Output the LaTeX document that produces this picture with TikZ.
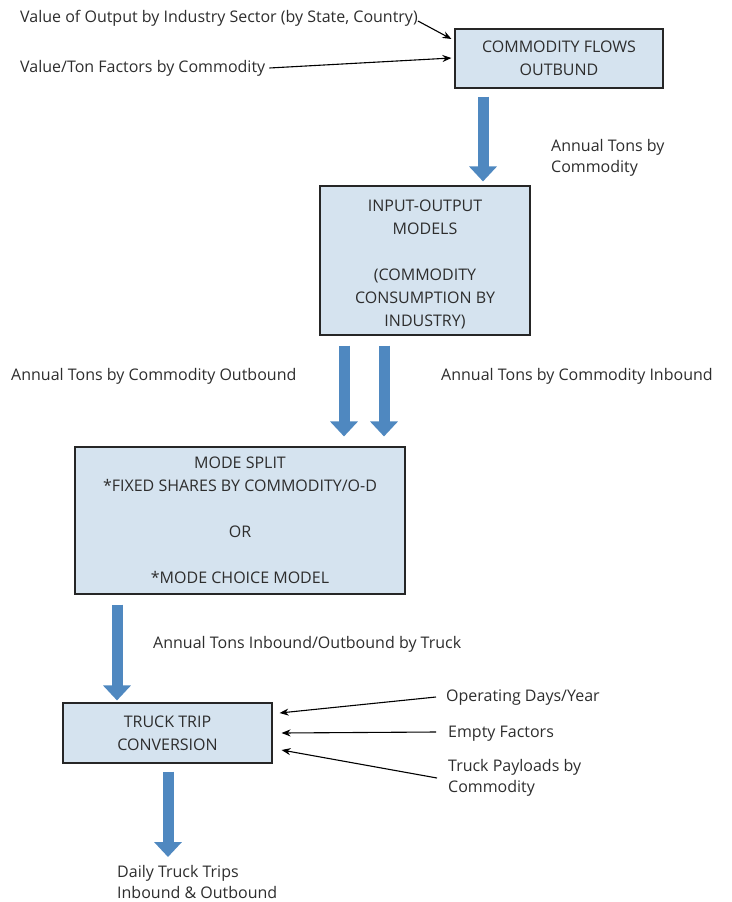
\documentclass[tikz,border=0pt]{standalone}
\usepackage{fontspec}
\setmainfont{Open Sans}
\usetikzlibrary{arrows.meta}
\definecolor{boxfill}{RGB}{213,227,239}
\definecolor{flowblue}{RGB}{79,136,192}
\definecolor{inktext}{RGB}{45,45,45}
\tikzset{
  procbox/.style={draw=black!85, line width=1.1pt, fill=boxfill, align=center,
    inner sep=0pt, text=inktext, font=\fontsize{16}{23}\selectfont},
  boxtext/.style={align=center, inner sep=0pt, text=inktext,
    font=\fontsize{16}{23}\selectfont},
  lbl/.style={anchor=west, inner sep=0pt, align=left, text=inktext,
    font=\fontsize{16}{21}\selectfont},
  fat/.style={draw=flowblue, line width=11pt,
    -{Triangle[width=27pt,length=15pt]}},
  feed/.style={draw=black, line width=1.1pt,
    -{Stealth[length=9pt,width=7pt]}}
}
\begin{document}
\begin{tikzpicture}[x=1pt,y=-1pt]
\useasboundingbox (0,0) rectangle (731,902);

% process boxes
\node[procbox, minimum width=208pt, minimum height=59pt] (b1) at (559,58.5)
  {COMMODITY FLOWS\\OUTBUND};
\node[procbox, minimum width=210pt, minimum height=149pt] (b2) at (425,260.5) {};
\node[boxtext] (b2t) at ([yshift=-3.5pt]b2.center)
  {INPUT-OUTPUT\\MODELS\\[23pt](COMMODITY\\CONSUMPTION BY\\INDUSTRY)};
\node[procbox, minimum width=330pt, minimum height=147pt] (b3) at (240,520.5)
  {MODE SPLIT\\*FIXED SHARES BY COMMODITY/O-D\\[23pt]OR\\[23pt]*MODE CHOICE MODEL};
\node[procbox, minimum width=209pt, minimum height=60pt] (b4) at (167.5,733)
  {TRUCK TRIP\\CONVERSION};

% inputs and flow labels
\node[lbl] (v1) at (20,18) {Value of Output by Industry Sector (by State, Country)};
\node[lbl] (v2) at (20,68) {Value/Ton Factors by Commodity};
\node[lbl] (l1) at (551,158) {Annual Tons by\\Commodity};
\node[lbl] (l2) at (11,376) {Annual Tons by Commodity Outbound};
\node[lbl] (l3) at (441,376) {Annual Tons by Commodity Inbound};
\node[lbl] (l4) at (153,644) {Annual Tons Inbound/Outbound by Truck};
\node[lbl] (op) at (446,698) {Operating Days/Year};
\node[lbl] (em) at (448,734) {Empty Factors};
\node[lbl] (pl) at (448,778) {Truck Payloads by\\Commodity};
\node[lbl] (dt) at (117,882) {Daily Truck Trips\\Inbound \& Outbound};

% main flow arrows
\draw[fat] ([xshift=-76pt,yshift=-8pt]b1.south) -- ([xshift=58pt,yshift=4pt]b2.north);
\draw[fat] ([xshift=-81pt,yshift=-10pt]b2.south) -- ([xshift=104pt,yshift=10pt]b3.north);
\draw[fat] ([xshift=-41pt,yshift=-10pt]b2.south) -- ([xshift=144pt,yshift=10pt]b3.north);
\draw[fat] ([xshift=-123pt,yshift=-10pt]b3.south) -- ([xshift=-50.5pt,yshift=2pt]b4.north);
\coordinate (out) at (168,857);
\draw[fat] ([xshift=0.5pt,yshift=-8pt]b4.south) -- (out);

% feeding arrows
\draw[feed] ([yshift=-3pt]v1.east) -- ([xshift=-3pt,yshift=19.5pt]b1.west);
\draw[feed] ([xshift=4pt]v2.east) -- ([xshift=-3pt,yshift=0.5pt]b1.west);
\draw[feed] ([xshift=-10pt,yshift=1pt]op.west) -- ([xshift=7pt,yshift=20pt]b4.east);
\draw[feed] ([xshift=-12pt,yshift=2pt]em.west) -- ([xshift=9pt]b4.east);
\draw[feed] ([xshift=-11pt]pl.west) -- ([xshift=9pt,yshift=-17pt]b4.east);
\end{tikzpicture}
\end{document}
